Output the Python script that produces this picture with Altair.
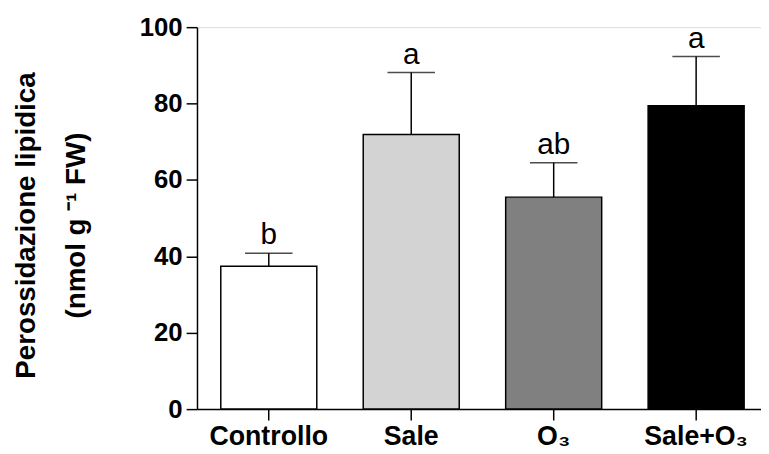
import altair as alt
import pandas as pd

categories = ["Controllo", "Sale", "O₃", "Sale+O₃"]
means = [37.4, 71.9, 55.5, 79.4]
errors = [3.4, 16.2, 9.0, 12.9]
letters = ["b", "a", "ab", "a"]
colors = ["#ffffff", "#d3d3d3", "#808080", "#000000"]

df = pd.DataFrame({
    "cat": categories,
    "mean": means,
    "err": errors,
    "letter": letters,
})
df["top"] = df["mean"] + df["err"]

FONT = "Liberation Sans"

xscale = alt.Scale(domain=categories, range=[0, 577], paddingInner=0.326, paddingOuter=0.167)
x = alt.X("cat:N", sort=categories, scale=xscale,
          axis=alt.Axis(title=None, labelAngle=0, labelFont=FONT, labelFontSize=27,
                        labelFontWeight="bold", labelColor="black", labelPadding=4,
                        domainColor="black", domainWidth=1.5, tickColor="black",
                        tickWidth=1.5, tickSize=11))
yscale = alt.Scale(domain=[0, 100], nice=False)

bars = alt.Chart(df).mark_bar(stroke="black", strokeWidth=1.5).encode(
    x=x,
    y=alt.Y("mean:Q", scale=yscale,
            axis=alt.Axis(values=[0, 20, 40, 60, 80, 100], grid=False,
                          title=["Perossidazione lipidica", "(nmol g ⁻¹ FW)"],
                          titleFont=FONT, titleFontSize=28, titleFontWeight="bold",
                          titleColor="black", titleAngle=-90, titleX=-186, titleY=200,
                          titleAlign="center", titleBaseline="top", titleLineHeight=50,
                          labelFont=FONT, labelFontSize=26, labelFontWeight="bold",
                          labelColor="black", labelPadding=4,
                          domainColor="black", domainWidth=1.5, tickColor="black",
                          tickWidth=1.5, tickSize=11)),
    fill=alt.Fill("cat:N", sort=categories,
                  scale=alt.Scale(domain=categories, range=colors), legend=None),
)

rules = alt.Chart(df).mark_rule(color="black", strokeWidth=1.5).encode(
    x=alt.X("cat:N", sort=categories, scale=xscale),
    y=alt.Y("mean:Q", scale=yscale),
    y2="top:Q",
)

caps = alt.Chart(df).mark_tick(color="black", thickness=1.5, size=48,
                               orient="horizontal").encode(
    x=alt.X("cat:N", sort=categories, scale=xscale),
    y=alt.Y("top:Q", scale=yscale),
)

text = alt.Chart(df).mark_text(font=FONT, fontSize=30, color="black",
                               baseline="bottom", dy=-3).encode(
    x=alt.X("cat:N", sort=categories, scale=xscale),
    y=alt.Y("top:Q", scale=yscale),
    text="letter:N",
)

chart = alt.layer(bars, rules, caps, text).properties(
    width=570, height=386,
    autosize=alt.AutoSizeParams(type="none"),
    padding={"left": 191, "top": 17, "right": 0, "bottom": 43},
).configure_view(stroke=None).configure(background="white")

chart.save("out.html", embed_options={"renderer": "svg", "actions": False})
